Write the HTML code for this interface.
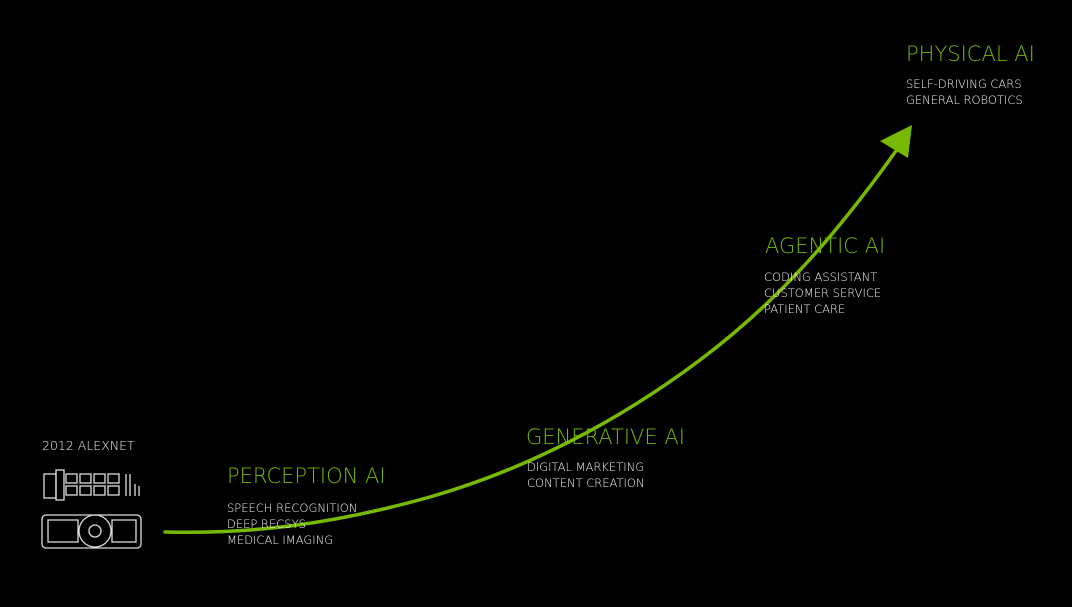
<!DOCTYPE html>
<html><head><style>
body{margin:0;width:1072px;height:607px;background:#000;overflow:hidden;position:relative;font-family:"DejaVu Sans","Liberation Sans",sans-serif;}
.t{position:absolute;color:#76b900;font-size:21px;font-weight:200;letter-spacing:0;white-space:nowrap;line-height:1}
.s{position:absolute;color:#f2f2f2;font-size:11.5px;font-weight:200;line-height:16px;white-space:nowrap;letter-spacing:0}
svg{position:absolute;left:0;top:0}
</style></head><body>
<svg width="1072" height="607">
<path d="M165,532 C250,534 330,525 430,497 C530,468 620,420 700,360 C780,300 840,230 898,148" fill="none" stroke="#76b900" stroke-width="3.5" stroke-linecap="round"/>
<polygon points="880,141 912,125 908,158" fill="#76b900"/>
<g fill="none" stroke="#ddd" stroke-width="1.3">
<rect x="42" y="515" width="99" height="33" rx="4"/>
<circle cx="95" cy="531" r="16"/><circle cx="95" cy="531" r="6"/>
<path d="M48,520 h30 v22 h-30z M112,520 h24 v22 h-24z"/>
<rect x="44" y="474" width="12" height="24"/><rect x="56" y="470" width="8" height="30"/>
<rect x="66" y="474" width="11" height="9"/><rect x="80" y="474" width="11" height="9"/><rect x="94" y="474" width="11" height="9"/><rect x="108" y="474" width="11" height="9"/>
<rect x="66" y="486" width="11" height="9"/><rect x="80" y="486" width="11" height="9"/><rect x="94" y="486" width="11" height="9"/><rect x="108" y="486" width="11" height="9"/>
<path d="M126,474 v22 M130,474 v22 M135,484 v12 M139,486 v10"/>
</g>
</svg>
<div class="s" style="left:42px;top:438px;font-size:12.5px">2012 ALEXNET</div>
<div class="t" style="left:227px;top:466px">PERCEPTION AI</div>
<div class="s" style="left:227px;top:500px">SPEECH RECOGNITION<br>DEEP RECSYS<br>MEDICAL IMAGING</div>
<div class="t" style="left:526px;top:427px">GENERATIVE AI</div>
<div class="s" style="left:527px;top:459px">DIGITAL MARKETING<br>CONTENT CREATION</div>
<div class="t" style="left:765px;top:236px">AGENTIC AI</div>
<div class="s" style="left:764px;top:269px">CODING ASSISTANT<br>CUSTOMER SERVICE<br>PATIENT CARE</div>
<div class="t" style="left:906px;top:44px">PHYSICAL AI</div>
<div class="s" style="left:906px;top:76px">SELF-DRIVING CARS<br>GENERAL ROBOTICS</div>
</body></html>
